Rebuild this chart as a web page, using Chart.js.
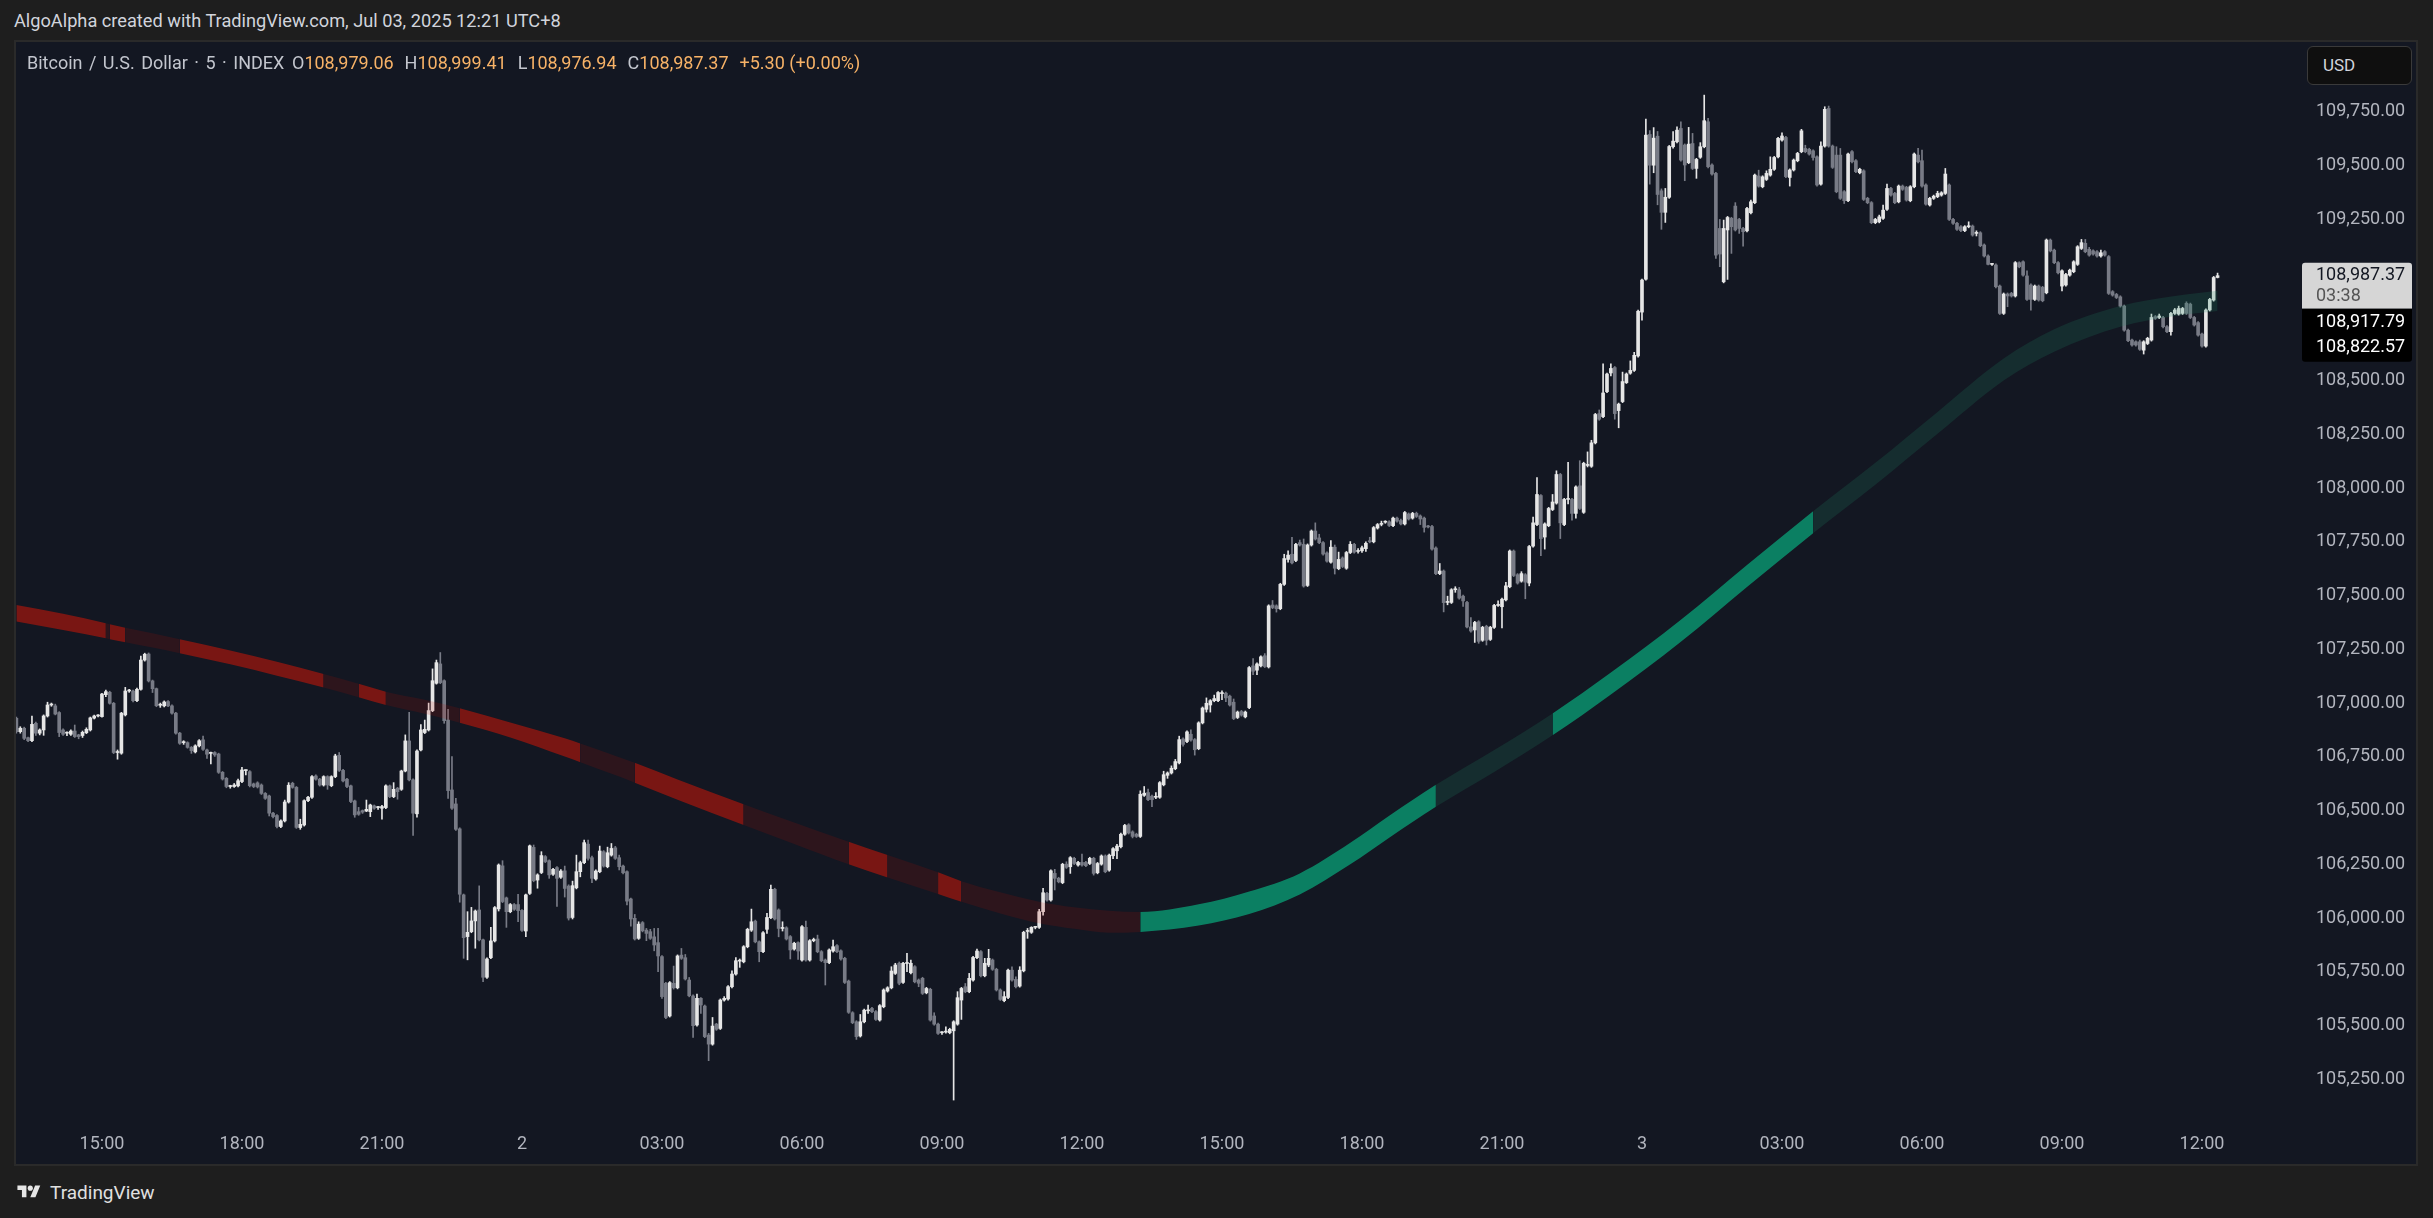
<!DOCTYPE html>
<html>
<head>
<meta charset="utf-8">
<title>BTCUSD 5m</title>
<script src="https://cdn.jsdelivr.net/npm/chart.js@4.4.1/dist/chart.umd.min.js"></script>
<style>
  html, body { margin: 0; padding: 0; }
  body { width: 2433px; height: 1218px; background: #1e1e1e; overflow: hidden; position: relative;
         font-family: Roboto, "Liberation Sans", sans-serif; }
  #title { position: absolute; left: 14px; top: 10px; font-size: 18.2px; line-height: 22px; color: #d1d4dc; }
  #pane { position: absolute; left: 14px; top: 40px; width: 2400px; height: 1122px;
          border: 2px solid #2a2a2a; background: #131722; }
  #wrap { position: absolute; left: 0; top: 0; width: 2400px; height: 1122px; }
  #legend { position: absolute; left: 11px; top: 10px; font-size: 18px; line-height: 22px; color: #c3c6ce; white-space: nowrap; }
  #legend .name { display: inline-block; width: 254px; word-spacing: 2px; }
  #legend .v { color: #f7b267; }
  #legend .k { margin-left: 11px; }
  #usd { position: absolute; left: 2291px; top: 4px; width: 105px; height: 39px; box-sizing: border-box;
         border: 1px solid #3a3a3a; border-radius: 6px; background: #0f0f0f; color: #d1d4dc;
         font-size: 17px; line-height: 37px; padding-left: 15px; }
  #footer { position: absolute; left: 14px; top: 1181px; height: 22px; display: flex; align-items: center;
            color: #e0e0e0; font-size: 19px; }
  #footer svg { margin-right: 6px; }
</style>
</head>
<body>
<div id="title">AlgoAlpha created with TradingView.com, Jul 03, 2025 12:21 UTC+8</div>
<div id="pane">
  <div id="wrap"><canvas id="Candles"></canvas></div>
  <div id="legend"><span class="name">Bitcoin / U.S. Dollar · 5 · INDEX</span><span class="k">O</span><span class="v">108,979.06</span><span class="k">H</span><span class="v">108,999.41</span><span class="k">L</span><span class="v">108,976.94</span><span class="k">C</span><span class="v">108,987.37</span><span class="k v">+5.30 (+0.00%)</span></div>
  <div id="usd">USD</div>
</div>
<div id="footer">
  <svg width="30" height="18" viewBox="0 0 36 28"><path d="M14 22H7V11H0V4h14v18zM28 22h-8l7.5-18h8L28 22z" fill="#e6e6e6"/><circle cx="20" cy="8" r="4" fill="#e6e6e6"/></svg>
  <span>TradingView</span>
</div>
<script>
// BTC / USD, 5 minute candles, Jul 1 13:10 -> Jul 3 12:20 (index 0 .. 566)
const opens = [
  106929, 106867, 106883, 106839, 106825, 106906, 106860, 106875, 106940, 106991,
  106987, 106956, 106875, 106860, 106855, 106870, 106852, 106849, 106862, 106875,
  106930, 106940, 106937, 107039, 107050, 106999, 106770, 106767, 106945, 107056,
  107056, 107011, 107064, 107200, 107228, 107103, 107067, 106990, 106987, 107007,
  106987, 106953, 106860, 106816, 106816, 106794, 106773, 106801, 106829, 106782,
  106766, 106770, 106763, 106678, 106650, 106612, 106612, 106615, 106635, 106686,
  106681, 106624, 106629, 106619, 106580, 106568, 106488, 106477, 106426, 106452,
  106540, 106627, 106608, 106421, 106433, 106546, 106562, 106661, 106646, 106619,
  106658, 106616, 106658, 106757, 106687, 106646, 106615, 106545, 106495, 106500,
  106498, 106495, 106522, 106514, 106511, 106514, 106615, 106565, 106604, 106599,
  106684, 106824, 106643, 106485, 106782, 106863, 106875, 106965, 107092, 107182,
  107104, 106921, 106596, 106531, 106415, 106108, 105914, 105937, 105987, 106038,
  105899, 105725, 105816, 105894, 106043, 106243, 106094, 106030, 106063, 106063,
  106036, 105940, 106115, 106329, 106177, 106212, 106286, 106267, 106204, 106235,
  106190, 106220, 106149, 106003, 106141, 106216, 106258, 106344, 106281, 106182,
  106216, 106309, 106239, 106293, 106327, 106281, 106242, 106216, 106089, 105999,
  105906, 105979, 105944, 105937, 105913, 105886, 105821, 105697, 105545, 105697,
  105676, 105828, 105816, 105712, 105638, 105503, 105627, 105591, 105456, 105414,
  105507, 105487, 105619, 105624, 105681, 105740, 105800, 105797, 105867, 105944,
  105986, 105890, 105844, 105948, 106002, 106134, 106038, 105952, 105955, 105914,
  105856, 105886, 105805, 105957, 105805, 105895, 105903, 105844, 105805, 105793,
  105847, 105872, 105848, 105813, 105707, 105560, 105518, 105452, 105518, 105569,
  105580, 105565, 105526, 105588, 105661, 105676, 105743, 105790, 105701, 105789,
  105746, 105774, 105712, 105720, 105653, 105669, 105545, 105507, 105467, 105470,
  105467, 105476, 105507, 105619, 105681, 105658, 105712, 105816, 105844, 105732,
  105782, 105805, 105762, 105666, 105616, 105631, 105758, 105715, 105684, 105755,
  105938, 105934, 105957, 105957, 106030, 106115, 106084, 106208, 106185, 106165,
  106251, 106239, 106278, 106247, 106259, 106259, 106254, 106278, 106211, 106251,
  106289, 106223, 106290, 106313, 106332, 106390, 106434, 106401, 106390, 106380,
  106571, 106584, 106567, 106562, 106562, 106620, 106664, 106675, 106695, 106722,
  106833, 106821, 106855, 106830, 106788, 106908, 106971, 106991, 107011, 107011,
  107044, 107046, 107032, 107004, 106933, 106961, 106936, 106979, 107173, 107153,
  107173, 107220, 107168, 107456, 107452, 107439, 107552, 107668, 107692, 107663,
  107746, 107738, 107547, 107735, 107800, 107768, 107746, 107698, 107655, 107725,
  107625, 107675, 107627, 107700, 107738, 107705, 107708, 107718, 107755, 107750,
  107814, 107831, 107841, 107843, 107825, 107860, 107849, 107833, 107879, 107860,
  107882, 107870, 107860, 107821, 107821, 107721, 107602, 107614, 107468, 107468,
  107527, 107527, 107497, 107468, 107354, 107340, 107378, 107292, 107357, 107296,
  107352, 107454, 107448, 107480, 107541, 107707, 107597, 107567, 107597, 107558,
  107730, 107830, 107965, 107772, 107825, 107900, 107930, 108063, 107830, 107947,
  107947, 107882, 108010, 107887, 108105, 108101, 108210, 108346, 108332, 108448,
  108535, 108560, 108360, 108402, 108490, 108534, 108547, 108614, 108818, 108971,
  109644, 109501, 109636, 109382, 109282, 109352, 109587, 109610, 109672, 109595,
  109513, 109602, 109486, 109538, 109587, 109703, 109502, 109463, 109207, 108959,
  109200, 109254, 109311, 109249, 109207, 109196, 109280, 109327, 109451, 109401,
  109435, 109455, 109482, 109540, 109618, 109630, 109444, 109479, 109522, 109564,
  109579, 109575, 109568, 109540, 109413, 109590, 109765, 109590, 109548, 109548,
  109378, 109336, 109564, 109522, 109466, 109475, 109347, 109327, 109234, 109238,
  109254, 109296, 109393, 109370, 109331, 109404, 109398, 109336, 109401, 109548,
  109522, 109409, 109316, 109347, 109355, 109362, 109370, 109409, 109249, 109231,
  109215, 109197, 109215, 109218, 109184, 109187, 109130, 109079, 109040, 109037,
  108939, 108812, 108902, 108905, 108893, 109048, 109052, 108986, 108944, 108877,
  108939, 108933, 108908, 109153, 109106, 109048, 108939, 108944, 108990, 109006,
  109040, 109114, 109138, 109110, 109103, 109099, 109079, 109099, 109076, 108913,
  108900, 108889, 108846, 108734, 108688, 108680, 108680, 108641, 108672, 108688,
  108797, 108793, 108793, 108750, 108727, 108812, 108809, 108812, 108859, 108855,
  108793, 108769, 108716, 108660, 108828, 108874, 108979.06
];
const highs = [
  106935, 106890, 106888, 106842, 106940, 106912, 106880, 106945, 107004, 107000,
  106995, 106960, 106880, 106866, 106876, 106898, 106855, 106870, 106885, 106935,
  106944, 106946, 107045, 107060, 107055, 107003, 106782, 106957, 107073, 107064,
  107060, 107070, 107219, 107232, 107233, 107107, 107070, 107000, 107010, 107012,
  106992, 106957, 106864, 106825, 106820, 106798, 106806, 106830, 106847, 106786,
  106772, 106774, 106767, 106682, 106654, 106618, 106626, 106646, 106701, 106690,
  106686, 106628, 106634, 106624, 106584, 106572, 106492, 106481, 106457, 106549,
  106630, 106632, 106612, 106460, 106550, 106566, 106663, 106666, 106650, 106662,
  106662, 106662, 106762, 106770, 106692, 106650, 106619, 106549, 106515, 106503,
  106549, 106530, 106526, 106520, 106524, 106620, 106619, 106630, 106608, 106688,
  106852, 106957, 106648, 106782, 106900, 106921, 107000, 107159, 107200, 107235,
  107108, 106971, 106751, 106557, 106420, 106112, 106030, 106050, 106038, 106150,
  105903, 105815, 105957, 106054, 106252, 106267, 106098, 106068, 106068, 106111,
  106040, 106112, 106340, 106340, 106206, 106309, 106291, 106271, 106232, 106240,
  106226, 106242, 106155, 106172, 106293, 106265, 106363, 106363, 106289, 106225,
  106335, 106314, 106330, 106347, 106334, 106293, 106247, 106220, 106093, 106017,
  105983, 105984, 105952, 105948, 105952, 105952, 105826, 105701, 105705, 105777,
  105829, 105859, 105831, 105724, 105643, 105647, 105631, 105596, 105464, 105538,
  105511, 105624, 105635, 105686, 105755, 105816, 105810, 105872, 105953, 106042,
  105991, 105894, 105937, 106022, 106154, 106139, 106043, 105983, 105960, 105919,
  105888, 105890, 105965, 105986, 105900, 105907, 105921, 105849, 105810, 105857,
  105898, 105877, 105853, 105818, 105712, 105565, 105523, 105552, 105577, 105596,
  105585, 105570, 105598, 105671, 105681, 105774, 105790, 105796, 105795, 105836,
  105805, 105779, 105717, 105725, 105678, 105674, 105560, 105512, 105472, 105495,
  105488, 105523, 105658, 105678, 105696, 105743, 105822, 105856, 105849, 105813,
  105855, 105810, 105767, 105671, 105658, 105763, 105774, 105727, 105774, 105939,
  105952, 105960, 105962, 106041, 106138, 106120, 106225, 106227, 106190, 106255,
  106262, 106286, 106283, 106264, 106298, 106264, 106283, 106283, 106259, 106294,
  106294, 106298, 106328, 106343, 106395, 106436, 106439, 106406, 106395, 106592,
  106612, 106600, 106572, 106584, 106635, 106683, 106680, 106708, 106738, 106846,
  106838, 106871, 106875, 106835, 106913, 106982, 107024, 107016, 107037, 107054,
  107057, 107051, 107037, 107019, 106963, 106966, 106963, 107170, 107207, 107187,
  107220, 107230, 107457, 107477, 107457, 107557, 107692, 107708, 107771, 107743,
  107758, 107763, 107740, 107805, 107838, 107785, 107751, 107703, 107755, 107735,
  107702, 107680, 107705, 107751, 107743, 107718, 107730, 107750, 107771, 107821,
  107835, 107846, 107848, 107848, 107865, 107865, 107856, 107891, 107884, 107887,
  107888, 107875, 107865, 107826, 107826, 107726, 107649, 107619, 107497, 107532,
  107541, 107538, 107502, 107473, 107398, 107380, 107383, 107357, 107362, 107357,
  107459, 107475, 107488, 107562, 107712, 107712, 107602, 107611, 107602, 107733,
  107865, 108048, 107970, 107838, 107910, 107970, 108080, 108068, 107952, 108119,
  107952, 108010, 108127, 108120, 108168, 108222, 108347, 108363, 108577, 108535,
  108577, 108565, 108395, 108539, 108535, 108591, 108631, 108827, 108972, 109715,
  109662, 109676, 109658, 109391, 109393, 109593, 109657, 109680, 109703, 109600,
  109677, 109649, 109533, 109606, 109827, 109719, 109507, 109468, 109249, 109246,
  109263, 109259, 109327, 109254, 109212, 109305, 109339, 109460, 109478, 109452,
  109475, 109540, 109542, 109631, 109652, 109635, 109484, 109530, 109561, 109668,
  109594, 109580, 109573, 109545, 109610, 109773, 109776, 109595, 109587, 109579,
  109383, 109558, 109569, 109527, 109487, 109480, 109352, 109332, 109254, 109269,
  109316, 109413, 109398, 109375, 109409, 109409, 109403, 109406, 109558, 109579,
  109571, 109414, 109352, 109362, 109380, 109378, 109486, 109414, 109254, 109236,
  109220, 109220, 109238, 109223, 109196, 109192, 109135, 109084, 109045, 109042,
  108944, 108907, 108907, 108910, 109053, 109052, 109057, 109010, 108949, 108944,
  108944, 108938, 109158, 109158, 109111, 109053, 109015, 108998, 109018, 109057,
  109127, 109156, 109156, 109119, 109108, 109104, 109106, 109104, 109081, 108918,
  108905, 108894, 108851, 108739, 108693, 108685, 108688, 108685, 108701, 108809,
  108802, 108809, 108798, 108755, 108817, 108835, 108846, 108840, 108866, 108860,
  108798, 108774, 108721, 108833, 108882, 108984, 108999.41
];
const lows = [
  106860, 106860, 106830, 106820, 106820, 106850, 106852, 106850, 106935, 106985,
  106945, 106844, 106850, 106848, 106850, 106840, 106834, 106840, 106858, 106870,
  106926, 106936, 106934, 107030, 106995, 106765, 106739, 106762, 106940, 107050,
  107005, 107006, 107060, 107195, 107098, 107049, 106983, 106980, 106982, 106983,
  106948, 106855, 106808, 106808, 106790, 106766, 106768, 106796, 106780, 106743,
  106717, 106752, 106673, 106642, 106606, 106604, 106608, 106610, 106630, 106666,
  106610, 106607, 106605, 106575, 106552, 106475, 106466, 106420, 106421, 106447,
  106535, 106604, 106417, 106413, 106428, 106541, 106557, 106641, 106614, 106614,
  106599, 106611, 106653, 106682, 106633, 106607, 106537, 106469, 106478, 106487,
  106495, 106472, 106506, 106506, 106460, 106509, 106560, 106560, 106553, 106594,
  106680, 106638, 106384, 106470, 106777, 106858, 106870, 106960, 107088, 107090,
  106906, 106557, 106506, 106408, 106074, 105813, 105806, 105932, 105860, 105894,
  105705, 105720, 105811, 105889, 106033, 106072, 105957, 106025, 106036, 105984,
  105938, 105914, 106110, 106169, 106139, 106207, 106258, 106185, 106199, 106054,
  106185, 106098, 105991, 105996, 106136, 106192, 106253, 106270, 106165, 106177,
  106211, 106237, 106234, 106288, 106273, 106224, 106206, 106061, 105963, 105898,
  105901, 105936, 105895, 105901, 105848, 105751, 105627, 105533, 105540, 105670,
  105671, 105808, 105712, 105634, 105445, 105498, 105557, 105444, 105337, 105409,
  105478, 105482, 105614, 105619, 105676, 105735, 105771, 105792, 105862, 105938,
  105885, 105797, 105839, 105929, 105997, 105991, 105913, 105940, 105898, 105810,
  105851, 105808, 105800, 105800, 105800, 105890, 105839, 105797, 105689, 105788,
  105842, 105839, 105805, 105696, 105557, 105509, 105436, 105447, 105513, 105557,
  105560, 105524, 105521, 105583, 105656, 105671, 105738, 105690, 105696, 105751,
  105741, 105699, 105681, 105645, 105648, 105521, 105502, 105459, 105459, 105465,
  105462, 105154, 105502, 105529, 105653, 105653, 105707, 105811, 105727, 105727,
  105774, 105757, 105661, 105617, 105611, 105626, 105707, 105676, 105679, 105750,
  105906, 105929, 105950, 105952, 106014, 106079, 106079, 106131, 106164, 106160,
  106231, 106208, 106249, 106242, 106242, 106239, 106249, 106200, 106206, 106246,
  106211, 106218, 106277, 106277, 106327, 106385, 106391, 106373, 106375, 106375,
  106566, 106546, 106518, 106556, 106557, 106615, 106650, 106670, 106690, 106717,
  106800, 106816, 106823, 106758, 106783, 106903, 106958, 106958, 107006, 107006,
  107016, 107007, 106986, 106923, 106928, 106939, 106931, 106974, 107132, 107132,
  107168, 107165, 107163, 107439, 107423, 107434, 107547, 107655, 107647, 107658,
  107730, 107539, 107542, 107730, 107758, 107741, 107688, 107655, 107650, 107600,
  107620, 107630, 107622, 107695, 107697, 107697, 107700, 107705, 107745, 107745,
  107809, 107824, 107836, 107821, 107820, 107841, 107828, 107828, 107851, 107855,
  107863, 107830, 107795, 107814, 107711, 107597, 107597, 107424, 107457, 107463,
  107515, 107483, 107450, 107349, 107330, 107282, 107278, 107287, 107270, 107291,
  107347, 107450, 107349, 107475, 107536, 107588, 107553, 107562, 107485, 107545,
  107725, 107825, 107685, 107716, 107820, 107895, 107925, 107765, 107825, 107926,
  107851, 107860, 107900, 107882, 108098, 108096, 108205, 108315, 108327, 108443,
  108521, 108320, 108280, 108397, 108486, 108529, 108542, 108609, 108780, 108966,
  109413, 109466, 109317, 109203, 109235, 109347, 109580, 109605, 109520, 109429,
  109508, 109481, 109440, 109533, 109582, 109489, 109455, 109068, 109029, 108954,
  108970, 109091, 109195, 109184, 109125, 109191, 109275, 109322, 109399, 109396,
  109430, 109450, 109477, 109535, 109613, 109443, 109404, 109474, 109517, 109559,
  109559, 109548, 109525, 109404, 109408, 109585, 109585, 109486, 109373, 109342,
  109323, 109331, 109512, 109466, 109461, 109337, 109322, 109229, 109229, 109233,
  109249, 109291, 109357, 109322, 109326, 109384, 109334, 109331, 109396, 109512,
  109399, 109315, 109311, 109342, 109350, 109357, 109365, 109244, 109226, 109198,
  109192, 109192, 109210, 109171, 109172, 109122, 109074, 109037, 109035, 108931,
  108807, 108807, 108843, 108888, 108888, 109024, 108985, 108872, 108827, 108872,
  108869, 108866, 108903, 109098, 109043, 108996, 108917, 108939, 108985, 109001,
  109035, 109109, 109094, 109078, 109083, 109074, 109074, 109078, 108900, 108892,
  108881, 108841, 108729, 108680, 108660, 108660, 108640, 108623, 108667, 108683,
  108784, 108788, 108745, 108722, 108711, 108807, 108804, 108807, 108807, 108788,
  108753, 108706, 108655, 108655, 108823, 108869, 108976.94
];
const closes = [
  106867, 106883, 106836, 106825, 106901, 106860, 106875, 106940, 106991, 106993,
  106949, 106863, 106855, 106860, 106870, 106844, 106844, 106864, 106878, 106931,
  106940, 106942, 107042, 107053, 106999, 106770, 106773, 106953, 107056, 107058,
  107011, 107064, 107200, 107227, 107103, 107067, 106988, 106992, 107005, 106987,
  106953, 106860, 106813, 106818, 106794, 106779, 106801, 106825, 106785, 106762,
  106768, 106759, 106678, 106647, 106612, 106614, 106619, 106639, 106689, 106686,
  106616, 106612, 106610, 106580, 106557, 106488, 106472, 106426, 106452, 106540,
  106618, 106608, 106422, 106436, 106546, 106562, 106658, 106646, 106619, 106658,
  106619, 106658, 106754, 106687, 106638, 106612, 106542, 106480, 106483, 106493,
  106506, 106526, 106511, 106514, 106519, 106615, 106565, 106599, 106588, 106684,
  106824, 106643, 106488, 106777, 106875, 106878, 106965, 107104, 107188, 107095,
  106918, 106593, 106511, 106413, 106111, 105909, 105934, 105987, 106033, 105899,
  105725, 105810, 105894, 106049, 106247, 106077, 106030, 106063, 106041, 106035,
  105943, 106108, 106336, 106174, 106201, 106291, 106263, 106201, 106227, 106185,
  106219, 106138, 106000, 106151, 106216, 106258, 106351, 106278, 106185, 106219,
  106312, 106242, 106304, 106324, 106278, 106239, 106211, 106079, 105996, 105903,
  105972, 105941, 105929, 105906, 105875, 105824, 105635, 105538, 105700, 105676,
  105824, 105813, 105717, 105639, 105500, 105627, 105596, 105449, 105414, 105498,
  105483, 105619, 105627, 105681, 105740, 105802, 105802, 105867, 105948, 105983,
  105890, 105844, 105932, 106003, 106134, 105996, 105952, 105952, 105903, 105852,
  105883, 105847, 105960, 105805, 105895, 105901, 105844, 105802, 105793, 105852,
  105867, 105844, 105810, 105701, 105562, 105514, 105449, 105518, 105572, 105571,
  105565, 105529, 105593, 105666, 105676, 105754, 105782, 105697, 105790, 105790,
  105790, 105704, 105697, 105650, 105673, 105526, 105507, 105464, 105467, 105472,
  105483, 105518, 105630, 105673, 105658, 105720, 105817, 105847, 105732, 105790,
  105813, 105762, 105666, 105622, 105635, 105758, 105712, 105681, 105758, 105934,
  105940, 105957, 105957, 106030, 106118, 106084, 106220, 106185, 106169, 106250,
  106236, 106281, 106254, 106259, 106247, 106244, 106278, 106208, 106254, 106289,
  106216, 106293, 106323, 106335, 106390, 106431, 106396, 106380, 106380, 106576,
  106581, 106551, 106551, 106564, 106630, 106667, 106675, 106697, 106728, 106830,
  106808, 106866, 106828, 106783, 106908, 106977, 106999, 107011, 107021, 107049,
  107046, 107024, 106991, 106928, 106958, 106944, 106958, 107165, 107148, 107182,
  107215, 107170, 107452, 107444, 107439, 107552, 107672, 107688, 107652, 107738,
  107735, 107544, 107735, 107800, 107763, 107746, 107693, 107660, 107725, 107627,
  107668, 107635, 107700, 107738, 107702, 107708, 107722, 107743, 107750, 107816,
  107830, 107833, 107842, 107826, 107860, 107846, 107833, 107886, 107856, 107882,
  107868, 107856, 107817, 107819, 107716, 107602, 107614, 107467, 107470, 107527,
  107529, 107488, 107475, 107354, 107335, 107375, 107287, 107352, 107292, 107352,
  107454, 107457, 107483, 107545, 107707, 107593, 107558, 107602, 107562, 107728,
  107838, 107970, 107765, 107833, 107905, 107935, 108063, 107838, 107947, 107947,
  107882, 108005, 107905, 108115, 108107, 108210, 108342, 108320, 108442, 108530,
  108556, 108346, 108390, 108495, 108530, 108547, 108617, 108822, 108967, 109641,
  109501, 109627, 109365, 109282, 109352, 109588, 109613, 109664, 109525, 109502,
  109599, 109486, 109528, 109587, 109708, 109494, 109460, 109083, 109088, 109207,
  109258, 109215, 109200, 109207, 109192, 109300, 109331, 109455, 109404, 109447,
  109463, 109482, 109537, 109626, 109637, 109448, 109479, 109525, 109556, 109661,
  109564, 109553, 109537, 109409, 109590, 109761, 109590, 109491, 109378, 109347,
  109336, 109553, 109517, 109471, 109482, 109342, 109327, 109234, 109249, 109261,
  109292, 109393, 109362, 109327, 109404, 109389, 109339, 109401, 109553, 109517,
  109404, 109320, 109347, 109357, 109370, 109373, 109460, 109249, 109231, 109203,
  109197, 109215, 109218, 109176, 109185, 109127, 109079, 109040, 109040, 108936,
  108812, 108902, 108893, 108893, 109048, 109029, 108990, 108877, 108877, 108939,
  108874, 108871, 109153, 109103, 109048, 109001, 109010, 108993, 109013, 109052,
  109122, 109141, 109099, 109083, 109088, 109079, 109094, 109083, 108905, 108897,
  108886, 108846, 108734, 108685, 108665, 108665, 108645, 108680, 108696, 108793,
  108789, 108800, 108750, 108727, 108812, 108828, 108835, 108835, 108812, 108793,
  108758, 108711, 108660, 108828, 108877, 108979, 108987.37
];

// trend band: knots (candle index), upper / lower edge, tone of the segment that starts there
// tone 0 strong bear, 1 weak bear, 2 strong bull, 3 weak bull
const bandIdx = [0, 12, 23, 24, 28, 35, 42, 55, 67, 79, 88, 95, 105, 114, 127, 141, 145, 155, 159, 170,
  187, 200, 214, 224, 237, 243, 253, 263, 272, 281, 289, 304, 317, 330, 343, 353, 365, 380, 395, 410,
  428, 445, 462, 478, 494, 511, 524, 541, 555, 566];
const bandUp = [107456, 107415, 107371, 107366, 107350, 107325, 107297, 107245, 107192, 107135,
  107090, 107053, 107015, 106976, 106910, 106836, 106812, 106748, 106722, 106645,
  106530, 106445, 106355, 106293, 106213, 106172, 106120, 106076, 106050, 106034,
  106028, 106064, 106124, 106208, 106350, 106476, 106620, 106782, 106952, 107142,
  107387, 107642, 107892, 108117, 108354, 108602, 108738, 108846, 108893, 108917.79];
const bandLo = [107379, 107340, 107301, 107297, 107283, 107258, 107232, 107180, 107127, 107072,
  107027, 106991, 106950, 106909, 106840, 106751, 106725, 106658, 106630, 106550,
  106433, 106345, 106250, 106189, 106112, 106076, 106022, 105976, 105950, 105932,
  105936, 105966, 106019, 106110, 106250, 106374, 106518, 106680, 106850, 107040,
  107285, 107540, 107790, 108015, 108252, 108500, 108634, 108750, 108800, 108822.57];
const bandTone = [0, 0, 1, 0, 1, 1, 0, 0, 0, 1,
  0, 1, 1, 0, 0, 0, 1, 1, 0, 0,
  1, 1, 0, 1, 0, 1, 1, 1, 1, 1,
  2, 2, 2, 2, 2, 2, 3, 3, 2, 2,
  2, 2, 3, 3, 3, 3, 3, 3, 3, 3];

// time axis
const tickIdx = [22, 58, 94, 130, 166, 202, 238, 274, 310, 346, 382, 418, 454, 490, 526, 562];
const tickLabels = ["15:00", "18:00", "21:00", "2", "03:00", "06:00", "09:00", "12:00",
  "15:00", "18:00", "21:00", "3", "03:00", "06:00", "09:00", "12:00"];
// price axis (108,750 and 109,000 sit under the price tags and are not printed)
const yTicks = [105250, 105500, 105750, 106000, 106250, 106500, 106750, 107000, 107250, 107500,
  107750, 108000, 108250, 108500, 109250, 109500, 109750];
const countdown = "03:38";

[opens, highs, lows, closes].forEach((a, k) => {
  if (a.length !== 567) throw new Error("series " + k + " has " + a.length + " values");
});
if (bandUp.length !== bandIdx.length || bandLo.length !== bandIdx.length || bandTone.length !== bandIdx.length) {
  throw new Error("band arrays differ " + bandIdx.length + " " + bandUp.length + " " + bandLo.length + " " + bandTone.length);
}

const UP = "#e6e6e6";
const DOWN = "#787b86";
const TONES = ["rgba(206,21,7,0.55)", "rgba(192,16,0,0.15)", "rgba(10,163,120,0.75)", "rgba(29,133,102,0.2)"];
const FONT = 'Roboto, "Liberation Sans", sans-serif';

const fmt = v => v.toLocaleString("en-US", { minimumFractionDigits: 2, maximumFractionDigits: 2 });
const candleColor = ctx => (closes[ctx.dataIndex] >= opens[ctx.dataIndex] ? UP : DOWN);

const priceTags = {
  id: "priceTags",
  afterDraw(chart) {
    const ctx = chart.ctx;
    const y = chart.scales.y;
    const last = closes.length - 1;
    const py = y.getPixelForValue(closes[last]);
    const bx = y.left + 2;
    const tx = y.left + 16;
    ctx.save();
    ctx.fillStyle = "#d6d6d6";
    ctx.beginPath();
    ctx.roundRect(bx, py - 13, 110, 46, [3, 3, 0, 0]);
    ctx.fill();
    ctx.fillStyle = "#000000";
    ctx.beginPath();
    ctx.roundRect(bx, py + 33, 110, 53, [0, 0, 3, 3]);
    ctx.fill();
    ctx.font = "18px " + FONT;
    ctx.textBaseline = "middle";
    ctx.textAlign = "left";
    ctx.fillStyle = "#131722";
    ctx.fillText(fmt(closes[last]), tx, py);
    ctx.fillStyle = "#555555";
    ctx.fillText(countdown, tx, py + 21);
    ctx.fillStyle = "#ffffff";
    ctx.fillText(fmt(bandUp[bandUp.length - 1]), tx, py + 47);
    ctx.fillText(fmt(bandLo[bandLo.length - 1]), tx, py + 72);
    ctx.restore();
  },
};

const CHART_CANDLES = document.getElementById("Candles");

if (CHART_CANDLES != null) {
  let chart_candles = new Chart(CHART_CANDLES, {
    type: "bar",
    data: {
      datasets: [
        {
          label: "Wicks",
          data: highs.map((h, i) => ({ x: i, y: [lows[i], h] })),
          backgroundColor: candleColor,
          barThickness: 1,
          minBarLength: 1,
          grouped: false,
          order: 3,
        },
        {
          label: "Bodies",
          data: opens.map((o, i) => ({ x: i, y: [o, closes[i]] })),
          backgroundColor: candleColor,
          barThickness: 3,
          minBarLength: 1,
          grouped: false,
          order: 2,
        },
        {
          type: "line",
          label: "Band lower",
          data: bandIdx.map((x, k) => ({ x: x, y: bandLo[k] })),
          borderWidth: 0,
          borderColor: "transparent",
          pointRadius: 0,
          cubicInterpolationMode: "monotone",
          fill: false,
          order: 1,
        },
        {
          type: "line",
          label: "Band upper",
          data: bandIdx.map((x, k) => ({ x: x, y: bandUp[k] })),
          borderWidth: 0,
          borderColor: "transparent",
          backgroundColor: TONES[0],
          pointRadius: 0,
          cubicInterpolationMode: "monotone",
          fill: "-1",
          segment: {
            backgroundColor: ctx => TONES[bandTone[ctx.p0DataIndex]],
          },
          order: 1,
        },
      ],
    },
    options: {
      responsive: true,
      maintainAspectRatio: false,
      animation: false,
      events: [],
      layout: { padding: 0 },
      plugins: {
        legend: { display: false },
        tooltip: { enabled: false },
      },
      scales: {
        x: {
          type: "linear",
          min: -0.103,
          max: 587.2,
          offset: false,
          grid: { display: false, drawTicks: false },
          border: { display: false },
          ticks: {
            autoSkip: false,
            maxRotation: 0,
            padding: 9,
            color: "#b2b5be",
            font: { family: FONT, size: 18 },
            callback: (v, i) => tickLabels[i],
          },
          afterBuildTicks: axis => {
            axis.ticks = tickIdx.map(v => ({ value: v }));
          },
          afterFit: axis => {
            axis.height = 39;
            axis.paddingLeft = 0;
            axis.paddingRight = 0;
          },
        },
        y: {
          position: "right",
          min: 105038,
          max: 110074,
          grid: { display: false, drawTicks: false },
          border: { display: false },
          ticks: {
            padding: 16,
            color: "#b2b5be",
            font: { family: FONT, size: 18 },
            callback: v => fmt(v),
          },
          afterBuildTicks: axis => {
            axis.ticks = yTicks.map(v => ({ value: v }));
          },
          afterFit: axis => {
            axis.width = 116;
            axis.paddingTop = 0;
            axis.paddingBottom = 0;
          },
        },
      },
    },
    plugins: [priceTags],
  });
}
</script>
</body>
</html>
